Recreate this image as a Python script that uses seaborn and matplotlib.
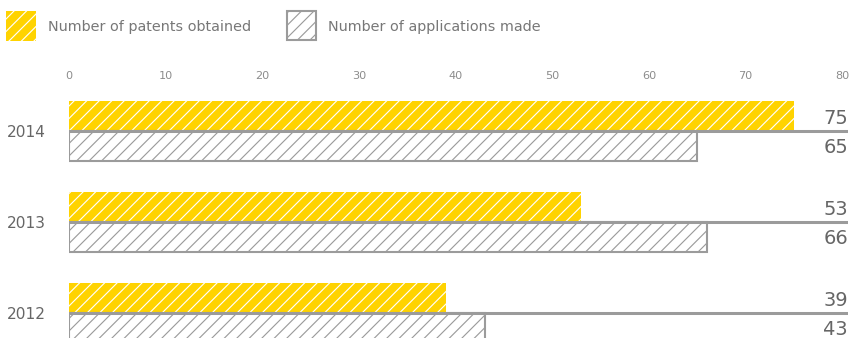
import pandas as pd
import matplotlib
matplotlib.use("Agg")
import matplotlib.pyplot as plt
import seaborn as sns
from matplotlib.patches import Rectangle
from matplotlib.transforms import blended_transform_factory

years = ["2014", "2013", "2012"]
patents = [75, 53, 39]
applications = [65, 66, 43]
series_names = ["Number of patents obtained", "Number of applications made"]
x_ticks = [0, 10, 20, 30, 40, 50, 60, 70, 80]

YELLOW = "#FFD300"
GRAY = "#9b9b9b"
TEXT = "#666666"
HATCH = "////"

df = pd.DataFrame({
    "year": years * 2,
    "series": [series_names[0]] * 3 + [series_names[1]] * 3,
    "value": patents + applications,
})

sns.set_style("white")
plt.rcParams["font.family"] = ["DejaVu Sans"]
plt.rcParams["hatch.linewidth"] = 0.55

W, H, DPI = 850, 338, 150
fig = plt.figure(figsize=(W / DPI, H / DPI), dpi=DPI)
ax = fig.add_axes([69 / W, 0, 779 / W, 250 / H])

sns.barplot(data=df, x="value", y="year", hue="series", order=years,
            hue_order=series_names, orient="h", width=0.66,
            palette=[YELLOW, "white"], errorbar=None, legend=False, ax=ax)

for bar in ax.containers[0]:
    bar.set_facecolor(YELLOW)
    bar.set_edgecolor("white")
    bar.set_linewidth(0)
    bar.set_hatch(HATCH)
for bar in ax.containers[1]:
    bar.set_facecolor("white")
    bar.set_edgecolor(GRAY)
    bar.set_linewidth(1.0)
    bar.set_hatch(HATCH)

xmax = 80.6
ax.hlines(range(len(years)), 0, xmax, color=GRAY, lw=1.45, zorder=5)

ax.set_xlim(0, xmax)
ax.set_ylim(2.275, -0.4725)
ax.xaxis.tick_top()
ax.set_xticks(x_ticks)
ax.tick_params(axis="x", length=0, pad=3.4, labelsize=5.4, labelcolor="#8c8c8c")
ax.tick_params(axis="y", length=0, pad=11, labelsize=7.4, labelcolor=TEXT)
ax.set_xlabel("")
ax.set_ylabel("")
for s in ax.spines.values():
    s.set_visible(False)

# value labels at right edge
trans = blended_transform_factory(ax.transAxes, ax.transData)
for i in range(len(years)):
    ax.annotate(str(patents[i]), xy=(1, i), xycoords=trans, xytext=(0, 3.4),
                textcoords="offset points", ha="right", va="baseline",
                fontsize=9.3, color=TEXT)
    ax.annotate(str(applications[i]), xy=(1, i), xycoords=trans, xytext=(0, -10.8),
                textcoords="offset points", ha="right", va="baseline",
                fontsize=9.3, color=TEXT)

# legend
fig.add_artist(Rectangle((6 / W, 1 - 41 / H), 30 / W, 30 / H, transform=fig.transFigure,
                         facecolor=YELLOW, edgecolor="white", linewidth=0, hatch=HATCH))
fig.text(48 / W, 1 - 27 / H, series_names[0], va="center", ha="left",
         fontsize=6.9, color="#777777")
fig.add_artist(Rectangle((287 / W, 1 - 40 / H), 29 / W, 29 / H, transform=fig.transFigure,
                         facecolor="white", edgecolor=GRAY, linewidth=1.0, hatch=HATCH))
fig.text(328 / W, 1 - 27 / H, series_names[1], va="center", ha="left",
         fontsize=6.9, color="#777777")

fig.savefig("out.png", dpi=DPI)
